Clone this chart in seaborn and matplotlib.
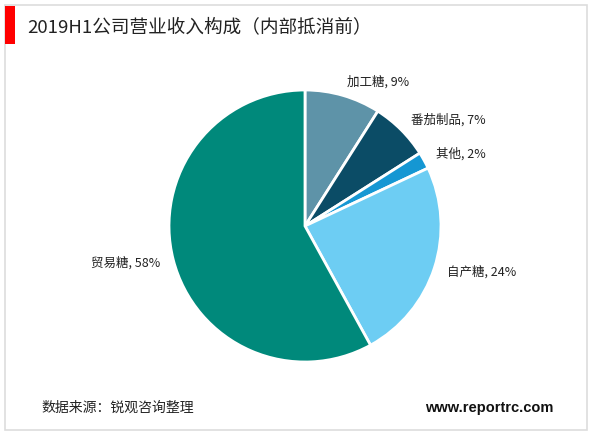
import matplotlib
matplotlib.use("Agg")
import matplotlib.pyplot as plt
import seaborn as sns
from matplotlib.patches import Rectangle

sns.set_theme(style="white")
plt.rcParams['font.family'] = ['Noto Sans CJK SC', 'DejaVu Sans']

categories = ["加工糖", "番茄制品", "其他", "自产糖", "贸易糖"]
values = [9, 7, 2, 24, 58]
colors = ["#5E93A8", "#0B4C66", "#1597D3", "#6DCDF3", "#00897B"]
title = "2019H1公司营业收入构成（内部抵消前）"
source = "数据来源：锐观咨询整理"
site = "www.reportrc.com"

W, H = 600, 433
fig = plt.figure(figsize=(6, 4.33), dpi=100)
fig.patch.set_facecolor("white")

# frame border
fig.patches.append(Rectangle((5 / W, 3 / H), 582 / W, 425 / H, transform=fig.transFigure,
                             fill=False, edgecolor="#DDDDDD", linewidth=1.2))
# red title bar
fig.patches.append(Rectangle((5 / W, (H - 44) / H), 10 / W, 38 / H, transform=fig.transFigure,
                             facecolor="#FF0000", edgecolor="none"))

fig.text(27 / W, (H - 27) / H, title, fontsize=13.4, ha="left", va="center", color="#222222")
fig.text(41 / W, (H - 408) / H, source, fontsize=10, ha="left", va="center", color="#222222")
fig.text(553 / W, (H - 408) / H, site, fontsize=10.5, ha="right", va="center",
         fontweight="bold", family=["Liberation Sans", "DejaVu Sans"], color="#111111")

cx, cy, r = 305, 226, 136
ax = fig.add_axes([(cx - r) / W, (H - cy - r) / H, 2 * r / W, 2 * r / H])
labels = [f"{c}, {v}%" for c, v in zip(categories, values)]
wedges, texts = ax.pie(values, labels=labels, colors=colors, startangle=90, counterclock=False,
                       wedgeprops=dict(edgecolor="white", linewidth=2),
                       textprops=dict(fontsize=9, color="#222222"), labeldistance=1.1)
ax.set_xlim(-1, 1)
ax.set_ylim(-1, 1)
ax.set_aspect("equal")
ax.axis("off")

fig.savefig("out.png", dpi=100, facecolor="white")
